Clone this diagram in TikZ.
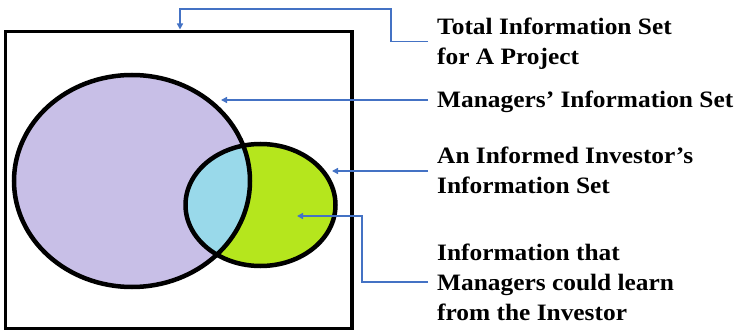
\documentclass[tikz,border=0pt]{standalone}
\usepackage{fontspec}
\setmainfont{Liberation Serif}[FakeStretch=1.08]
\usetikzlibrary{arrows.meta,calc}

\definecolor{setlav}{HTML}{C8BFE7}
\definecolor{setaqua}{HTML}{99D9EA}
\definecolor{setlime}{HTML}{B5E61D}
\definecolor{pointer}{HTML}{4472C4}

% invisible strut fixing the first baseline 20pt below the label top
\newcommand{\firstline}{\rule{0pt}{20pt}}

\tikzset{
  label/.style={anchor=north west, inner sep=0pt, align=left,
    font=\fontsize{23.5}{30}\selectfont\bfseries},
  pointer/.style={draw=pointer, line width=1.5pt,
    -{Triangle[length=6pt,width=6pt]}},
  outline/.style={draw=black, line width=4.5pt},
}

\begin{document}
\begin{tikzpicture}[x=1pt,y=-1pt]
  \useasboundingbox (0,0) rectangle (744,331);

  % the whole information set
  \draw[line width=3.5pt] (5.5,31.5) rectangle (352,328.5);

  % managers' set, investor's set and their overlap
  \fill[setlav]  (132,181) ellipse [x radius=118, y radius=106];
  \fill[setlime] (260.5,205) ellipse [x radius=75, y radius=61];
  \begin{scope}
    \clip (132,181) ellipse [x radius=118, y radius=106];
    \fill[setaqua] (260.5,205) ellipse [x radius=75, y radius=61];
  \end{scope}
  \draw[outline] (132,181) ellipse [x radius=118, y radius=106];
  \draw[outline] (260.5,205) ellipse [x radius=75, y radius=61];

  % labels
  \node[label] (total) at (437,14.3)  {\firstline Total Information Set\\for A Project};
  \node[label] (mgr)   at (437,87.7)  {\firstline Managers’ Information Set};
  \node[label] (inv)   at (437,143.3) {\firstline An Informed Investor’s\\Information Set};
  \node[label] (learn) at (437,240.7) {\firstline Information that\\Managers could learn\\from the Investor};

  % pointer starts, just left of each label
  \coordinate (totalptr) at ($(total.north west)+(-9,27.4)$);
  \coordinate (mgrptr)   at ($(mgr.north west)+(-9,12.3)$);
  \coordinate (invptr)   at ($(inv.north west)+(-9,27.7)$);
  \coordinate (learnptr) at ($(learn.north west)+(-9,41.3)$);

  % pointer ends and bends
  \coordinate (boxtop)  at (180,29.5);
  \coordinate (overtop) at (391,9);
  \coordinate (mgredge) at (221,100);
  \coordinate (invedge) at (332,171);
  \coordinate (bendB)   at (362,282);
  \coordinate (lime)    at (297,216);

  % pointers
  \draw[pointer] (totalptr) -| (overtop) -| (boxtop);
  \draw[pointer] (mgrptr) -- (mgrptr -| mgredge);
  \draw[pointer] (invptr) -- (invptr -| invedge);
  \draw[pointer] (learnptr) -- (learnptr -| bendB) |- (lime);
\end{tikzpicture}
\end{document}
